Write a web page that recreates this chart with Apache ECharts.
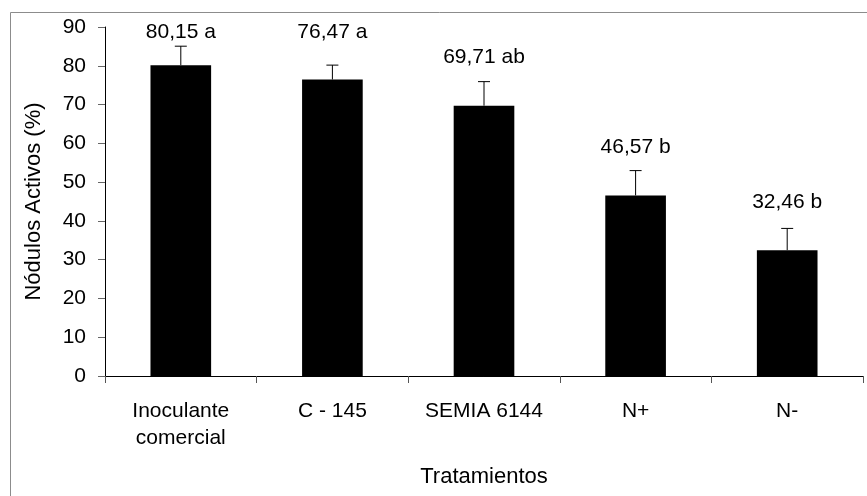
<!DOCTYPE html>
<html>
<head>
<meta charset="utf-8">
<script src="https://cdn.jsdelivr.net/npm/echarts@6/dist/echarts.min.js"></script>
<style>
html,body{margin:0;padding:0;background:#fff;}
#chart{width:867px;height:496px;}
</style>
</head>
<body>
<div id="chart"></div>
<script>
var categories = ['Inoculante\ncomercial', 'C - 145', 'SEMIA 6144', 'N+', 'N-'];
var values = [80.15, 76.47, 69.71, 46.57, 32.46];
var errors = [4.9, 3.7, 6.2, 6.4, 5.6];
var letters = ['a', 'a', 'ab', 'b', 'b'];
var yTicks = [0, 10, 20, 30, 40, 50, 60, 70, 80, 90];

var FONT = '"Liberation Sans", Arial, sans-serif';
var chart = echarts.init(document.getElementById('chart'), null, {renderer: 'canvas'});

function fmt(v) { return v.toFixed(2).replace('.', ','); }

var errData = values.map(function (v, i) { return [i, v, errors[i]]; });

chart.setOption({
  animation: false,
  backgroundColor: '#fff',
  graphic: [{
    type: 'rect', left: 8, top: 10, silent: true,
    shape: {width: 900, height: 600},
    style: {fill: 'none', stroke: '#8c8c8c', lineWidth: 1}
  }],
  grid: {left: 105, right: 4, top: 27, bottom: 120, containLabel: false},
  xAxis: {
    type: 'category',
    data: categories,
    name: 'Tratamientos',
    nameLocation: 'middle',
    nameGap: 90,
    nameTextStyle: {fontFamily: FONT, fontSize: 22, color: '#000'},
    axisLine: {lineStyle: {color: '#000', width: 1}},
    axisTick: {show: true, length: 7, lineStyle: {color: '#555'}, alignWithLabel: false},
    axisLabel: {fontFamily: FONT, fontSize: 21, color: '#000', margin: 22, lineHeight: 27, interval: 0},
    splitLine: {show: false}
  },
  yAxis: {
    type: 'value',
    min: 0, max: 90, interval: 10,
    name: 'Nódulos Activos (%)',
    nameLocation: 'middle',
    nameGap: 60,
    nameRotate: 90,
    nameTextStyle: {fontFamily: FONT, fontSize: 22, color: '#000'},
    axisLine: {show: true, lineStyle: {color: '#000', width: 1}},
    axisTick: {show: true, inside: false, length: 7, lineStyle: {color: '#666'}},
    axisLabel: {fontFamily: FONT, fontSize: 21, color: '#000', margin: 19,
      formatter: function (v) { return yTicks.indexOf(v) >= 0 ? String(v) : ''; }},
    splitLine: {show: false}
  },
  series: [{
    type: 'bar',
    data: values,
    barWidth: '40%',
    itemStyle: {color: '#000'},
    z: 2
  }, {
    type: 'custom',
    data: errData,
    z: 3,
    renderItem: function (params, api) {
      var i = api.value(0), v = api.value(1), e = api.value(2);
      var base = api.coord([i, v]);
      var top = api.coord([i, v + e]);
      var cap = 6;
      var ly = Math.max(base[1] - 48, 32);
      return {
        type: 'group',
        children: [
          {type: 'line', shape: {x1: base[0], y1: base[1], x2: top[0], y2: top[1]},
            style: {stroke: '#000', lineWidth: 1}},
          {type: 'line', shape: {x1: top[0] - cap, y1: top[1], x2: top[0] + cap, y2: top[1]},
            style: {stroke: '#000', lineWidth: 1}},
          {type: 'text', x: top[0], y: ly,
            style: {text: fmt(values[params.dataIndex]) + ' ' + letters[params.dataIndex],
              fill: '#000', font: '21px ' + FONT, textAlign: 'center', textVerticalAlign: 'middle'}}
        ]
      };
    }
  }]
});
</script>
</body>
</html>
